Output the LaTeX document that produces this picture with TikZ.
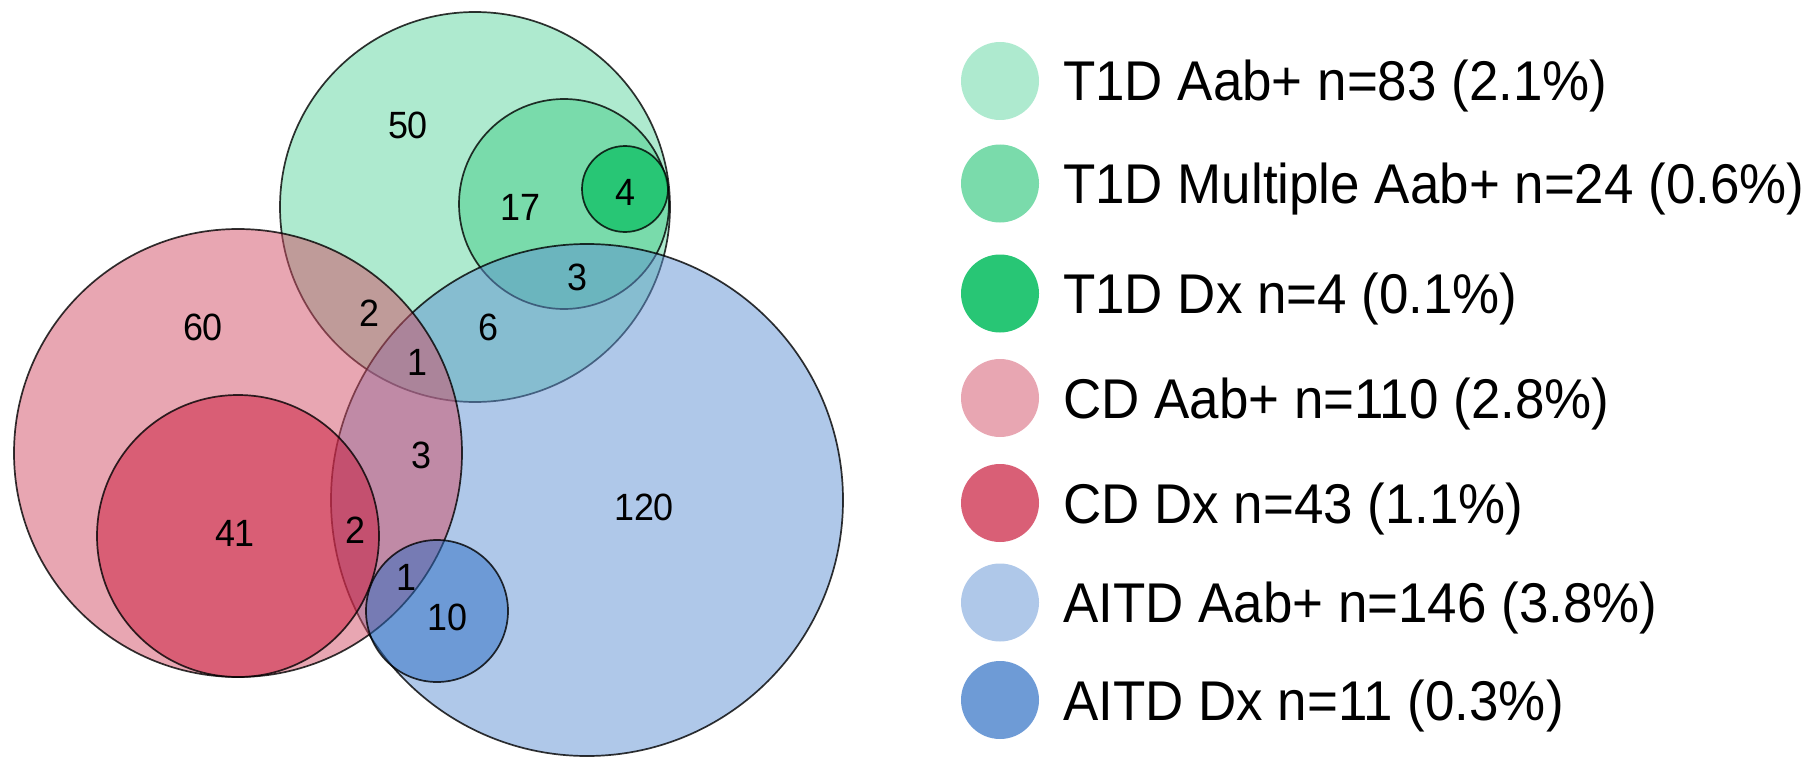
\documentclass[tikz,border=0pt]{standalone}
\usepackage{fontspec}
\setmainfont[FakeStretch=0.945]{Liberation Sans}
\definecolor{gA}{RGB}{93,213,159}
\definecolor{gM}{RGB}{70,204,135}
\definecolor{gD}{RGB}{20,193,104}
\definecolor{pA}{RGB}{209,77,101}
\definecolor{pD}{RGB}{202,24,58}
\definecolor{bA}{RGB}{95,145,211}
\definecolor{bD}{RGB}{45,110,195}
\definecolor{LgA}{RGB}{174,234,207}
\definecolor{LgM}{RGB}{122,219,171}
\definecolor{LgD}{RGB}{40,198,117}
\definecolor{LpA}{RGB}{232,166,178}
\definecolor{LpD}{RGB}{217,95,118}
\definecolor{LbA}{RGB}{175,200,233}
\definecolor{LbD}{RGB}{110,155,214}
\begin{document}
\begin{tikzpicture}[x=1pt,y=-1pt,
  venn/.style={circle,inner sep=0pt,draw=black,draw opacity=0.8,line width=1.7pt,fill opacity=0.5},
  num/.style={inner sep=0pt,font=\fontsize{38}{40}\selectfont},
  legdot/.style={circle,inner sep=0pt,minimum size=78pt},
  legtext/.style={anchor=base west,inner sep=0pt,font=\fontsize{56}{60}\selectfont}]
\useasboundingbox (0,0) rectangle (1820,757);
% Venn circles
\node[venn,fill=gA,minimum size=390pt] (t1a) at (475,207) {};
\node[venn,fill=gM,minimum size=210pt] (t1m) at (564,204) {};
\node[venn,fill=gD,fill opacity=0.8,minimum size=86pt] (t1d) at (625,189) {};
\node[venn,fill=bA,minimum size=512pt] (aia) at (587,500) {};
\node[venn,fill=pA,minimum size=448pt] (cda) at (238,453) {};
\node[venn,fill=pD,minimum size=282pt] (cdd) at (238,536) {};
\node[venn,fill=bD,minimum size=142pt] (aid) at (437,611) {};
% counts
\node[num] (n50) at (408,125) {50};
\node[num] (n17) at (520,207) {17};
\node[num] (n4) at (625,192) {4};
\node[num] (n3a) at (577,277) {3};
\node[num] (n6) at (488,327) {6};
\node[num] (n2a) at (369,313) {2};
\node[num] (n1a) at (417,362) {1};
\node[num] (n60) at (203,327) {60};
\node[num] (n3b) at (421,455) {3};
\node[num] (n41) at (235,533) {41};
\node[num] (n2b) at (355,530) {2};
\node[num] (n1b) at (406,577) {1};
\node[num] (n10) at (447,617) {10};
\node[num] (n120) at (644,507) {120};
% legend
\node[legdot,fill=LgA] (d1) at (1000,81) {};
\node[legdot,fill=LgM] (d2) at (1000,183.5) {};
\node[legdot,fill=LgD] (d3) at (1000,293.5) {};
\node[legdot,fill=LpA] (d4) at (1000,398) {};
\node[legdot,fill=LpD] (d5) at (1000,503) {};
\node[legdot,fill=LbA] (d6) at (1000,602.5) {};
\node[legdot,fill=LbD] (d7) at (1000,700) {};
\node[legtext] (t1) at (1063,101) {T1D Aab+ n=83 (2.1\%)};
\node[legtext] (t2) at (1063,203.5) {T1D Multiple Aab+ n=24 (0.6\%)};
\node[legtext] (t3) at (1063,313.5) {T1D Dx n=4 (0.1\%)};
\node[legtext] (t4) at (1063,418) {CD Aab+ n=110 (2.8\%)};
\node[legtext] (t5) at (1063,523) {CD Dx n=43 (1.1\%)};
\node[legtext] (t6) at (1063,622.5) {AITD Aab+ n=146 (3.8\%)};
\node[legtext] (t7) at (1063,720) {AITD Dx n=11 (0.3\%)};
\end{tikzpicture}
\end{document}
